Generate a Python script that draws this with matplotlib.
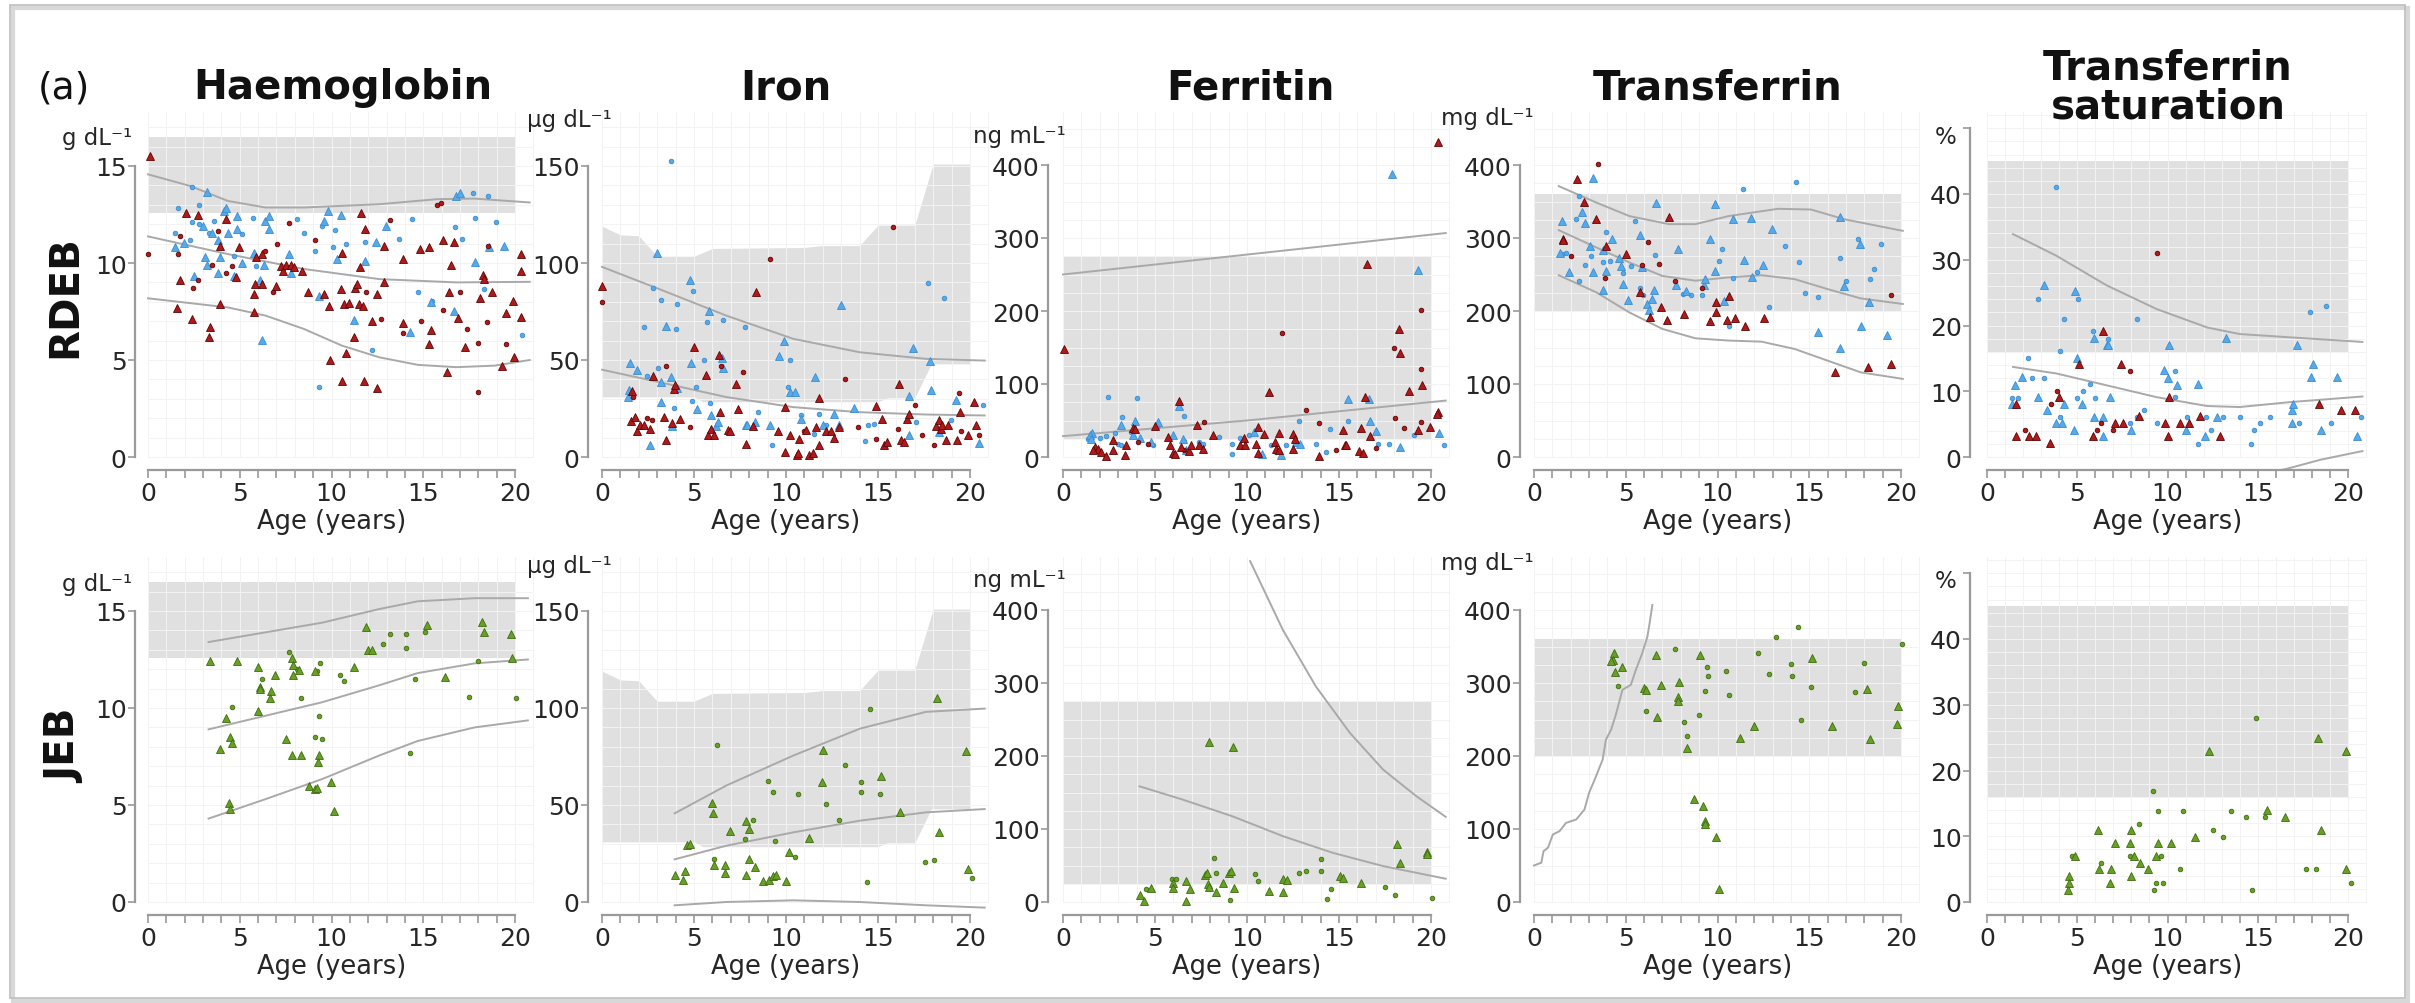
import matplotlib.pyplot as plt
import numpy as np
from matplotlib.patches import Rectangle

# ---------------- data (age in years, value) ----------------
# Haemoglobin, g/dL
hb_band = (12.6, 16.5)
hb_rdeb_red_tri = [(0.1, 15.5), (2.07, 12.6), (1.76, 9.1), (1.6, 7.7), (2.4, 7.1), (2.7, 12.5), (3.4, 6.7), (3.3, 6.2),
                   (3.9, 7.9), (3.9, 10.9), (4.25, 12.25), (4.77, 9.3), (4.97, 10.8), (5.76, 8.4), (5.76, 7.5),
                   (5.85, 8.9), (5.9, 10.3), (6.2, 10.45), (6.2, 8.9), (6.98, 8.8), (7.25, 9.86), (7.36, 9.6),
                   (7.5, 9.9), (7.77, 9.9), (7.98, 9.8), (8.4, 9.6), (8.7, 8.5), (9.6, 8.4), (9.85, 7.8), (9.9, 5.0),
                   (10.5, 8.65), (10.57, 10.5), (10.57, 3.9), (10.67, 7.9), (10.8, 5.35), (10.94, 7.95), (11.2, 6.2),
                   (11.3, 8.7), (11.4, 8.9), (11.5, 7.9), (11.56, 9.8), (11.6, 12.6), (11.7, 7.8), (11.8, 11.75),
                   (11.77, 3.9), (12.2, 7.0), (12.5, 3.55), (12.5, 8.4), (12.85, 9.0), (12.85, 10.9), (13.9, 10.2),
                   (13.9, 6.9), (14.8, 10.7), (15.3, 10.8), (15.4, 6.55), (15.3, 5.8), (16.1, 11.2), (16.3, 4.4),
                   (16.4, 8.5), (16.5, 9.9), (16.7, 11.1), (16.9, 7.15), (17.3, 5.65), (18.07, 8.2), (18.24, 9.4),
                   (18.3, 9.2), (18.76, 8.5), (19.3, 4.7), (19.5, 7.4), (19.9, 8.05), (19.94, 5.15), (20.3, 9.6),
                   (20.3, 10.45), (20.3, 7.2)]
hb_rdeb_red_dot = [(0, 10.45), (1.76, 11.4), (1.66, 10.45), (2.45, 8.7), (2.7, 9.1), (3.5, 9.9), (3.8, 11.66),
                   (4.25, 9.5), (4.56, 9.86), (6.36, 10.6), (6.8, 8.5), (7.05, 11.0), (7.67, 12.05), (9.1, 11.2),
                   (11.9, 8.5), (12.7, 7.1), (13.2, 12.2), (13.9, 6.4), (14.9, 7.0), (15.75, 13.0), (15.96, 13.1),
                   (16.06, 7.6), (17.0, 8.5), (17.4, 6.6), (18.0, 5.9), (18.0, 3.35), (18.5, 6.95), (18.55, 10.9),
                   (19.5, 5.8)]
hb_rdeb_blue_tri = [(3.2, 13.66), (1.45, 10.8), (1.97, 11.05), (2.53, 9.34), (3.0, 11.9), (3.1, 10.3), (3.2, 9.9),
                    (3.5, 11.57), (3.8, 11.2), (3.8, 9.5), (3.9, 10.3), (4.15, 12.7), (4.25, 12.86), (4.35, 11.57),
                    (4.7, 9.34), (4.87, 12.4), (4.87, 11.74), (5.1, 10.0), (5.8, 10.54), (6.1, 9.1), (6.2, 6.05),
                    (6.3, 9.9), (6.4, 12.17), (6.6, 12.4), (6.6, 11.74), (7.7, 10.45), (7.8, 9.5), (9.3, 8.3),
                    (9.6, 12.17), (9.8, 12.7), (10.3, 10.2), (10.5, 12.5), (11.2, 7.06), (11.8, 10.1), (12.4, 11.06),
                    (12.95, 11.9), (14.3, 6.43), (15.4, 8.0), (16.7, 7.54), (16.8, 13.46), (17.0, 13.6),
                    (17.8, 10.03), (18.6, 10.8), (19.4, 10.9)]
hb_rdeb_blue_dot = [(2.4, 13.9), (1.66, 12.86), (1.45, 11.57), (2.28, 11.2), (2.4, 12.1), (2.8, 13.0), (2.8, 12.0),
                    (3.3, 11.57), (3.6, 12.17), (4.66, 10.37), (5.14, 11.5), (5.7, 12.34), (5.9, 9.86), (8.1, 12.25),
                    (8.5, 11.57), (9.1, 10.6), (9.3, 3.6), (9.5, 11.9), (10.1, 10.8), (10.2, 11.7), (10.8, 10.97),
                    (11.8, 11.06), (12.2, 5.5), (13.7, 11.26), (14.4, 12.25), (14.7, 8.5), (15.5, 8.06),
                    (16.75, 11.83), (17.1, 11.26), (17.7, 13.63), (17.8, 12.34), (18.3, 8.66), (18.55, 13.46),
                    (18.96, 12.1), (20.4, 6.3)]
hb_rdeb_curves = [
    ([0, 2.3, 4.35, 6.4, 8.5, 12.6, 15.75, 17.8, 20.8], [14.57, 13.97, 13.2, 12.86, 12.86, 13.03, 13.29, 13.32, 13.12]),
    ([0, 4.35, 8.5, 12.6, 16.8, 20.8], [11.37, 10.46, 9.69, 9.17, 9.0, 9.03]),
    ([0, 4.35, 6.4, 8.5, 10.57, 12.6, 14.7, 16.8, 18.9, 20.8], [8.18, 7.71, 7.29, 6.6, 5.74, 5.14, 4.75, 4.63, 4.71, 5.0]),
]
hb_jeb_tri = [(3.38, 12.4), (4.87, 12.4), (3.94, 7.9), (4.25, 9.5), (4.46, 8.5), (4.6, 8.2), (4.4, 5.1), (4.46, 4.8),
              (6.0, 12.1), (6.1, 11.1), (6.1, 11.0), (5.97, 9.83), (6.7, 10.9), (6.67, 10.5), (6.94, 11.7),
              (7.5, 8.4), (7.83, 12.6), (7.9, 12.2), (7.9, 11.7), (8.25, 11.95), (7.83, 7.6), (8.35, 7.6),
              (8.75, 6.0), (9.08, 11.9), (9.3, 7.6), (9.28, 7.2), (9.08, 5.83), (9.2, 5.9), (9.95, 6.2),
              (10.15, 4.7), (11.2, 12.1), (11.9, 14.2), (12.0, 13.0), (12.2, 13.0), (15.2, 14.3), (16.2, 11.6),
              (18.2, 14.45), (18.3, 13.9), (19.8, 13.8), (19.85, 12.6)]
hb_jeb_dot = [(4.6, 10.05), (6.2, 11.47), (7.7, 12.9), (8.1, 12.03), (8.33, 10.5), (9.2, 11.9), (9.4, 12.3),
              (9.08, 8.5), (9.5, 8.4), (9.3, 9.6), (10.47, 11.7), (10.7, 11.4), (12.8, 13.3), (13.2, 13.8),
              (14.05, 13.8), (14.05, 13.1), (14.3, 7.7), (14.55, 11.5), (15.1, 13.9), (17.5, 10.57), (18.0, 12.4),
              (20.06, 10.5)]
hb_jeb_curves = [
    ([3.3, 6.4, 9.5, 12.6, 14.7, 17.8, 20.7], [13.4, 13.9, 14.4, 15.1, 15.5, 15.66, 15.66]),
    ([3.3, 6.4, 9.5, 12.6, 14.7, 17.8, 20.7], [8.9, 9.6, 10.3, 11.17, 11.8, 12.3, 12.5]),
    ([3.3, 6.4, 9.5, 12.6, 14.7, 17.8, 20.7], [4.3, 5.3, 6.34, 7.55, 8.3, 9.0, 9.36]),
]

# Iron, ug/dL (age-dependent reference band)
iron_band_age = [0, 1, 2, 3, 5, 5.5, 6, 11, 12, 14, 15, 15.5, 17, 17.9, 18, 20]
iron_band_lo = [31, 31, 31, 31, 31, 28.5, 28.5, 28.5, 28.5, 28.5, 28.5, 30.5, 30.5, 48, 48, 48]
iron_band_hi = [119, 114.5, 114, 103.5, 103.5, 105.5, 107.5, 108, 109, 109, 119.5, 119.5, 119.5, 148, 151, 151]
iron_rdeb_red_tri = [(0, 88.3), (1.65, 33.8), (1.6, 18.3), (1.77, 20.6), (1.9, 13.4), (2.05, 16.3), (2.3, 16.6),
                     (2.62, 14.2), (2.77, 42), (3.35, 20.6), (3.46, 8.6), (3.82, 17.7), (3.9, 35.1), (3.95, 36.9),
                     (4.25, 19.4), (5.0, 56.6), (5.67, 42.3), (5.76, 11.5), (5.94, 14.6), (6.06, 11.5), (6.35, 52.6),
                     (6.43, 23.1), (6.84, 13.7), (6.97, 13.2), (7.3, 37.7), (7.38, 24.5), (7.8, 6.86), (8.2, 15.8),
                     (8.38, 85.2), (9.56, 13.2), (9.92, 25.7), (9.97, 2.6), (10.2, 11.1), (10.6, 0.86), (10.64, 2.2),
                     (10.7, 9.4), (11.1, 13.7), (11.24, 1.2), (11.46, 2.2), (11.64, 15.4), (11.82, 30.3), (11.82, 6),
                     (12.2, 13.2), (12.45, 13.2), (12.6, 9.8), (12.9, 15.4), (14.9, 26.2), (15.2, 19.4), (15.35, 6.3),
                     (15.5, 7.7), (16.16, 37.7), (16.25, 8.6), (16.4, 7.7), (16.56, 19.4), (16.7, 22.3), (18.15, 15.8),
                     (18.3, 18.9), (18.4, 14.2), (18.5, 16.3), (18.7, 8.6), (18.8, 16.6), (19.3, 8.6), (19.46, 23.1),
                     (19.9, 11.5), (20.2, 28.3), (20.3, 16.3)]
iron_rdeb_red_dot = [(0, 79.7), (1.7, 30.9), (2.44, 20), (2.73, 18.9), (3.46, 47.1), (4.8, 15.4), (6.46, 47.1),
                     (7.66, 44), (9.14, 102), (11.0, 13.2), (13.2, 40.3), (13.9, 15.4), (14.9, 9.4), (15.8, 118.6),
                     (16.1, 14.2), (17.0, 26.9), (17.4, 11.1), (18.06, 6), (19.4, 33.1), (19.5, 13.2), (20.5, 11.1)]
iron_rdeb_blue_tri = [(3.0, 104.9), (3.5, 67.4), (4.8, 91.2), (5.8, 75.4), (1.54, 48.5), (1.9, 44.6), (1.4, 30.9),
                      (1.47, 34.3), (2.6, 6.3), (3.2, 38.6), (3.2, 28.6), (3.76, 41.1), (3.82, 15.9), (4.1, 35.5),
                      (4.85, 48.5), (5.16, 24.9), (5.9, 21.4), (6.2, 15.8), (6.3, 18), (6.5, 50.9), (6.6, 45.8),
                      (7.8, 16.3), (7.9, 16.6), (8.3, 18), (9.14, 16.3), (9.6, 52.3), (9.9, 60), (10.2, 33.4),
                      (10.5, 33.4), (10.8, 19.4), (11.55, 41.1), (12.0, 16.3), (12.6, 22.3), (12.87, 16.6),
                      (13.0, 78.3), (13.7, 25.2), (16.67, 31.7), (16.7, 11.1), (16.9, 56), (17.8, 49.7), (17.9, 34.3),
                      (18.33, 12.9), (19.24, 29.5), (20.5, 7.4)]
iron_rdeb_blue_dot = [(3.76, 152.6), (2.77, 86.9), (3.2, 80.9), (2.26, 66.9), (4.0, 66), (4.1, 78.9), (4.94, 85.7),
                      (5.7, 69.8), (6.57, 70.8), (2.44, 42), (3.06, 45.9), (3.9, 25.2), (4.9, 29.1), (5.1, 36),
                      (5.54, 50.2), (5.85, 27.9), (7.75, 66.9), (8.5, 23.1), (9.25, 6.3), (10.1, 36), (10.2, 50.2),
                      (10.8, 21.8), (11.5, 12), (11.8, 22.3), (12.2, 16.3), (14.3, 8.1), (14.45, 16.3), (14.8, 17.1),
                      (17.07, 18), (17.7, 89.7), (18.6, 81.8), (18.97, 18.9), (20.7, 26.9)]
iron_rdeb_curves = [
    ([0, 3.1, 6.75, 10.4, 14, 17.6, 20.8], [98, 86.6, 72.9, 60.9, 54, 50.6, 49.7]),
    ([0, 3.1, 6.75, 10.4, 14, 17.6, 20.8], [45, 38.6, 30.9, 25.7, 23.1, 21.9, 21.4]),
]
iron_jeb_tri = [(3.95, 13.8), (4.4, 11.2), (4.5, 16), (4.6, 29.5), (4.8, 29.8), (6.0, 51), (6.03, 45.7), (6.06, 19),
                (6.66, 19), (6.66, 14.8), (6.93, 36.7), (7.84, 41.9), (7.98, 37.6), (7.98, 22), (7.84, 13.8),
                (8.34, 18.1), (8.74, 10.9), (9.1, 11.2), (9.28, 13.4), (9.47, 13.8), (10.0, 10.9), (10.15, 25.9),
                (11.24, 32.8), (12.0, 78.1), (11.96, 61.7), (15.17, 64.8), (16.2, 46.2), (18.2, 105.2),
                (18.33, 35.9), (19.8, 77.6), (19.9, 17.2)]
iron_jeb_dot = [(6.24, 80.7), (6.1, 22.4), (7.75, 32.4), (8.2, 42.4), (9.0, 62.6), (9.3, 56.6), (9.4, 31.6),
                (10.5, 23.4), (10.64, 55.7), (12.2, 50.5), (12.87, 42.4), (13.2, 70.7), (14.08, 61.7), (14.08, 56.6),
                (14.4, 10.3), (14.57, 99.7), (15.1, 55.7), (17.57, 20.7), (18.06, 21.7), (20.1, 12.6)]
iron_jeb_curves = [
    ([3.95, 6.75, 10.4, 14, 17.6, 20.8], [45.7, 60, 75.5, 89.3, 98, 99.7]),
    ([3.95, 6.75, 10.4, 14, 17.6, 20.8], [22, 29, 35.9, 41.9, 46.2, 47.9]),
    ([3.95, 6.75, 10.4, 14, 17.6, 20.8], [-1.7, 0, 0.86, 0, -1.7, -2.9]),
]

# Ferritin, ng/mL
ferr_band = (24, 274)
ferr_rdeb_red_tri = [(0.05, 147.7), (20.4, 431.8), (16.5, 264.5), (18.24, 175), (18.3, 143), (18.8, 91), (19.5, 98.6),
                     (11.2, 88.6), (6.33, 77.3), (16.4, 81.8), (20.4, 61.4), (20.3, 59), (7.28, 43.2), (4.98, 42.3),
                     (3.8, 39.5), (3.9, 38.6), (16.2, 39.5), (10.6, 40.9), (19.95, 40.9), (15.2, 36.4), (19.3, 36.4),
                     (2.7, 22.7), (3.44, 15.9), (1.72, 13.6), (1.9, 10.5), (1.63, 9.1), (2.08, 6.8), (2.35, 1.4),
                     (3.35, 3.2), (2.7, 9.1), (5.7, 27.3), (5.8, 15.9), (5.97, 5.9), (6.1, 4.5), (6.4, 13.6),
                     (6.84, 7.7), (6.97, 16.8), (7.4, 15.9), (7.6, 10.5), (8.15, 30.5), (9.6, 15.9), (9.86, 25.9),
                     (9.9, 15.9), (10.5, 18.2), (10.6, 5.9), (10.95, 31.8), (11.5, 20.5), (11.6, 11.4), (11.76, 33.2),
                     (11.76, 9.1), (12.5, 31.8), (12.6, 24.1), (12.5, 10.5), (13.9, 1.4), (15.3, 15.9), (15.4, 15.9),
                     (16.1, 7.7), (16.3, 5.9), (16.7, 28.6)]
ferr_rdeb_red_dot = [(19.46, 201), (18.0, 149), (11.9, 170.5), (19.46, 121), (13.2, 65), (18.06, 53.2), (13.9, 46.8),
                     (19.46, 48.6), (7.64, 47.7), (18.55, 39.5), (4.07, 20.5), (4.6, 18.2), (6.6, 9.1), (14.84, 9.1),
                     (17.0, 12.3)]
ferr_rdeb_blue_tri = [(17.9, 387.7), (19.3, 256), (6.33, 70.5), (15.5, 79.5), (16.65, 79.5), (16.7, 50), (3.17, 43.2),
                      (3.9, 50), (5.16, 47.7), (3.8, 29.5), (1.6, 33.2), (1.45, 29.5), (1.5, 25), (4.16, 25.9),
                      (4.8, 20.5), (5.97, 29.5), (6.5, 25), (6.7, 9.1), (10.4, 34), (10.8, 4.5), (11.86, 3.2),
                      (12.67, 20.5), (12.9, 18.2), (17.0, 35), (18.3, 13.6), (20.45, 33.2)]
ferr_rdeb_blue_dot = [(2.44, 81.8), (4.0, 80.5), (6.6, 56.8), (12.8, 50), (15.5, 50), (3.2, 54.5), (5.1, 40.9),
                      (3.7, 34), (2.8, 33.2), (1.36, 24), (2.0, 25.9), (2.35, 28.6), (3.0, 18.2), (3.17, 15.9),
                      (4.9, 15.9), (6.6, 21.4), (7.4, 20.5), (7.6, 18.2), (8.5, 27.3), (9.2, 18.2), (9.2, 4.5),
                      (9.6, 25.9), (10.1, 30.5), (11.3, 15.9), (11.6, 6.8), (12.1, 15.9), (13.76, 18.2), (14.3, 6.8),
                      (14.5, 37.7), (17.1, 18.2), (17.7, 18.2), (19.1, 29.5), (20.7, 15.9)]
ferr_rdeb_curves = [
    ([0, 20.8], [250, 306.8]),
    ([0, 10, 20.8], [28.6, 50, 77.3]),
]
ferr_jeb_tri = [(7.93, 219), (9.23, 213), (4.16, 9.1), (4.38, 1.4), (4.8, 19.6), (5.97, 26.4), (6.0, 19.6),
                (6.66, 1.4), (6.7, 28.7), (6.9, 17.3), (7.7, 36.4), (7.82, 40), (7.87, 24.1), (7.96, 21), (8.33, 13.7),
                (8.72, 26.4), (9.0, 40), (9.14, 42.4), (9.32, 19.6), (11.2, 15), (11.95, 31.9), (12.16, 30),
                (11.95, 13.7), (15.06, 35.5), (15.2, 33.3), (16.2, 26.4), (18.14, 79.7), (18.3, 53.8), (19.76, 68.3),
                (19.8, 65.1)]
ferr_jeb_dot = [(4.5, 18.2), (5.94, 31), (6.15, 31.9), (8.2, 60.6), (8.33, 40), (9.05, 2.7), (10.46, 37.8),
                (10.6, 28.7), (12.8, 39.2), (13.2, 42.4), (14.0, 58.3), (14.0, 42.4), (14.35, 3.6), (14.57, 18.2),
                (17.5, 21), (18.06, 9.1), (20.05, 5.9)]
ferr_jeb_curves = [
    ([10.17, 11.95, 13.75, 15.6, 17.4, 19.2, 20.8], [467, 372.7, 295, 231.4, 181.3, 145, 116.6]),
    ([4.16, 6.5, 9.2, 11.95, 14.66, 17.4, 20.8], [158.5, 140.3, 117.5, 90.2, 67.4, 49.2, 31.9]),
]

# Transferrin, mg/dL
tf_band = (200, 360)
tf_rdeb_red_tri = [(2.33, 381), (2.7, 350), (3.4, 325.7), (1.57, 299), (1.6, 297.5), (3.95, 289), (5.0, 278),
                   (5.8, 226.4), (7.35, 329), (6.3, 192), (6.9, 205), (7.26, 188), (8.17, 196), (9.6, 186.8),
                   (9.9, 212.8), (9.9, 198), (10.5, 188), (10.6, 221), (10.97, 191), (11.5, 179), (12.56, 191),
                   (16.4, 116), (18.2, 123), (19.46, 127.6)]
tf_rdeb_red_dot = [(3.47, 401), (2.0, 275.6), (3.87, 244.6), (5.9, 263), (6.2, 294.8), (6.8, 264), (7.7, 241.5),
                   (9.16, 231), (19.46, 222)]
tf_rdeb_blue_tri = [(3.2, 382.7), (1.54, 323.5), (1.4, 280), (1.9, 253.8), (2.62, 335.8), (2.8, 320), (3.05, 289),
                    (3.2, 252.8), (3.78, 283.8), (3.78, 229), (3.92, 255), (4.25, 299), (4.64, 272), (4.73, 262),
                    (4.86, 237), (5.1, 215.5), (5.8, 304), (5.9, 259.7), (6.18, 209.6), (6.27, 201.8), (6.45, 216.4),
                    (6.54, 229), (6.63, 347.6), (7.86, 284.7), (7.75, 235.5), (8.3, 227.8), (9.25, 235.5),
                    (9.3, 243.7), (9.6, 298.4), (9.85, 255), (9.85, 346), (10.33, 214), (10.82, 326.7), (11.47, 270),
                    (11.83, 328), (11.87, 247), (12.5, 263), (12.95, 313), (15.48, 171.8), (16.66, 149), (16.7, 329),
                    (16.9, 233.7), (17.74, 291.6), (17.83, 179), (18.28, 212.8), (19.24, 167)]
tf_rdeb_blue_dot = [(2.47, 357.6), (1.5, 278), (1.75, 280), (2.3, 326.7), (2.44, 241.5), (2.8, 263), (3.1, 275.6),
                    (3.78, 266.5), (3.92, 308.4), (4.14, 268.8), (4.86, 252), (5.28, 262), (5.5, 323.5), (5.8, 232),
                    (5.95, 221.9), (6.6, 276.5), (8.1, 223), (8.53, 221.9), (9.16, 221.9), (10.24, 285.6),
                    (10.1, 268.8), (10.64, 180), (10.82, 244.6), (11.4, 367.7), (12.14, 252.8), (12.8, 205),
                    (13.7, 289), (14.3, 376.8), (14.44, 266.5), (14.76, 224.6), (15.48, 218.7), (16.7, 272),
                    (17.0, 241.5), (17.65, 299), (18.3, 243.7), (18.55, 257.4), (18.9, 291.6)]
tf_rdeb_curves = [
    ([1.35, 3.4, 5.2, 7.35, 8.8, 10.6, 13.3, 15.1, 16.9, 20.1], [371, 348.5, 330, 319, 319, 330, 340, 339, 325.7, 309.8]),
    ([1.35, 3.4, 5.2, 7.0, 8.8, 10.6, 12.4, 14.2, 16.0, 17.8, 20.1],
     [310.7, 287, 266.5, 248, 241.5, 246, 249, 243.7, 230, 217.3, 209.6]),
    ([1.35, 3.4, 5.2, 7.0, 8.8, 10.6, 12.4, 14.2, 16.0, 17.8, 20.1],
     [249, 225.5, 198, 175.4, 162.6, 159.5, 158, 148, 132, 116, 107]),
]
tf_jeb_tri = [(4.37, 340.8), (4.28, 331.7), (4.2, 330.3), (4.43, 314.4), (4.82, 321.6), (6.0, 293), (6.1, 290.7),
              (6.63, 338), (6.72, 254), (6.9, 297.5), (7.86, 280.6), (7.86, 274.7), (7.9, 300.7), (8.35, 211),
              (9.07, 338.5), (11.2, 224), (11.98, 241.5), (15.16, 334), (16.24, 241.5), (18.16, 291.6),
              (18.3, 223.2), (19.8, 244.2), (19.86, 268.8), (8.7, 141.7), (9.2, 131.2), (9.3, 110.7), (9.34, 106.2),
              (9.94, 88.8), (10.1, 18.2)]
tf_jeb_dot = [(4.6, 296), (6.12, 261), (7.7, 346.7), (8.2, 246), (8.35, 227.8), (8.98, 256.5), (9.3, 288.4),
              (9.43, 321.6), (9.48, 309.8), (10.46, 317), (10.6, 283.8), (12.2, 340.8), (12.83, 312.5), (13.2, 363.6),
              (14.0, 326.2), (14.04, 309), (14.36, 377.2), (14.54, 249.7), (15.1, 295.2), (17.5, 287), (18.0, 327),
              (20.04, 353.5)]
tf_jeb_curves = [
    ([0, 0.4, 0.52, 0.76, 1.03, 1.39, 1.75, 2.3, 2.75, 3.0, 3.38, 3.74, 3.92, 4.2, 4.46, 4.82, 5.28, 5.55, 5.9,
      6.18, 6.3, 6.45],
     [50, 53.8, 69.7, 74.3, 92.5, 97, 108.4, 113, 126.7, 149.4, 172.2, 195, 222.3, 236, 256.5, 290.7, 297.5, 318,
      340.8, 363.6, 381.8, 406.8]),
]

# Transferrin saturation, %
tsat_band = (16, 45)
tsat_rdeb_red_tri = [(6.44, 19.1), (5.1, 14.2), (7.4, 14.2), (4.0, 9.2), (1.63, 8.1), (10.1, 9.2), (1.6, 3.2),
                     (2.33, 3.2), (2.74, 3.2), (3.5, 2.2), (5.9, 3.2), (7.1, 5.2), (7.55, 5.2), (8.44, 6.2),
                     (9.87, 5.2), (10.05, 3.2), (10.7, 5.2), (11.2, 5.2), (11.8, 6.2), (12.9, 3.2), (18.4, 8.1),
                     (19.6, 7.1), (20.4, 7.1)]
tsat_rdeb_red_dot = [(9.4, 31), (7.9, 13.1), (3.9, 10.0), (3.57, 8.1), (2.1, 4.05), (6.07, 4.05), (6.3, 5.1),
                     (7.0, 4.05)]
tsat_rdeb_blue_tri = [(3.15, 26.2), (4.87, 25.2), (5.93, 18.1), (6.63, 17.1), (6.72, 17), (10.07, 17.1),
                      (13.26, 18.1), (17.2, 17.1), (18.07, 14.2), (17.96, 12.15), (19.4, 12.15), (4.96, 15.0),
                      (1.54, 11.0), (1.96, 12.15), (1.4, 8.1), (2.83, 9.2), (3.3, 7.1), (4.26, 8.1), (5.24, 8.1),
                      (6.81, 9.1), (3.85, 5.2), (4.13, 5.1), (4.8, 4.05), (5.93, 6.1), (6.44, 6.1), (6.4, 3.2),
                      (8.0, 4.05), (9.8, 13.2), (10.05, 12.05), (10.5, 11.0), (11.0, 4.05), (11.7, 11.1), (12.1, 3.2),
                      (12.74, 6.1), (16.9, 7.1), (16.96, 8.1), (16.9, 5.2), (18.5, 4.05), (20.5, 3.2)]
tsat_rdeb_blue_dot = [(3.85, 41), (2.83, 24.05), (5.05, 24.05), (4.26, 21), (8.3, 21), (5.9, 19.1), (6.72, 18),
                      (17.9, 22), (18.76, 23), (4.07, 16.05), (2.28, 15.0), (2.5, 12.05), (3.15, 12.05), (5.7, 11.1),
                      (5.33, 10.0), (1.4, 9.0), (1.7, 9.0), (5.0, 9.0), (5.98, 9.0), (4.04, 6.1), (7.93, 5.2),
                      (8.7, 7.1), (8.3, 6.1), (9.4, 5.2), (10.4, 13.1), (10.4, 9.1), (11.1, 6.1), (11.7, 2.0),
                      (12.15, 6.1), (12.4, 4.05), (13.1, 6.1), (14.0, 6.1), (14.6, 2.0), (14.8, 4.05), (15.1, 5.1),
                      (15.7, 6.1), (17.3, 5.1), (19.07, 5.1), (20.7, 6.1)]
tsat_rdeb_curves = [
    ([1.44, 3.85, 6.63, 9.4, 12.2, 14.0, 16.8, 20.8], [33.9, 30.6, 26.1, 22.5, 19.7, 18.7, 18.2, 17.5]),
    ([1.44, 3.85, 6.63, 9.4, 12.2, 14.0, 16.8, 20.8], [13.7, 12.7, 10.9, 9.1, 7.75, 7.6, 8.35, 9.2]),
    ([14.5, 16.6, 18.5, 20.8], [-3, -1.8, -0.4, 0.9]),
]
tsat_jeb_tri = [(18.33, 25), (12.28, 23), (19.87, 23), (15.5, 14), (16.5, 13), (6.17, 11), (8.0, 11), (18.5, 11),
                (11.5, 9.95), (7.1, 9.0), (7.9, 9.0), (9.5, 9.0), (10.2, 9.0), (4.87, 7.0), (8.15, 7.0), (9.37, 7.0),
                (8.5, 6.0), (6.2, 5.0), (6.85, 5.0), (8.94, 5.0), (19.9, 5.0), (4.56, 4.0), (8.0, 4.0), (4.56, 2.9),
                (6.8, 2.9), (4.5, 1.9)]
tsat_jeb_dot = [(14.93, 28), (9.22, 16.9), (9.5, 13.86), (10.85, 13.86), (13.5, 13.86), (14.37, 12.9), (15.4, 12.9),
                (8.4, 11.9), (12.5, 11), (13.1, 9.95), (4.7, 7.0), (7.9, 7.0), (9.63, 7.0), (6.3, 5.9), (10.7, 5.0),
                (17.7, 5.0), (18.2, 5.0), (9.37, 2.9), (9.74, 2.9), (20.15, 2.9), (9.26, 1.9), (14.7, 1.9)]

titles = ['Haemoglobin', 'Iron', 'Ferritin', 'Transferrin', 'Transferrin\nsaturation']
units = ['g dL⁻¹', 'µg dL⁻¹', 'ng mL⁻¹', 'mg dL⁻¹', '%']
yticks = [[0, 5, 10, 15], [0, 50, 100, 150], [0, 100, 200, 300, 400], [0, 100, 200, 300, 400], [0, 10, 20, 30, 40, 50]]
row_labels = ['RDEB', 'JEB']

# ---------------- layout (pixels of the 2415x1004 canvas) ----------------
W, H = 2415, 1004
COL_SPINE = [135, 588, 1048, 1520, 1970]
COL_X0 = [148, 602, 1063, 1534, 1987]
COL_X20 = [515, 970, 1431, 1901, 2348]
TICK_TOP_PX = [167, 167, 166, 166, 195]      # pixel of the top labelled tick (15, 150, 400, 400, 40)
TICK_TOP_VAL = [15, 150, 400, 400, 40]
GRID_STEP = [1, 10, 25, 25, 2]
UNIT_POS = [(132, 139), (612, 121), (1066, 136), (1534, 119), (1957, 137)]
ROW_SHIFT = [0, 445]
ZERO_PX, BASE_PX, TOP_PX = 458, 471, 113

RED, RED_E = '#b0181a', '#5e0505'
BLUE, BLUE_E = '#56aaea', '#3a8cd2'
GREEN, GREEN_E = '#66a024', '#3f6c10'
CURVE = '#a9a9a9'
BAND = '#e0e0e0'
AXC = '#9a9a9a'
TXT = '#262626'

plt.rcParams['font.family'] = 'DejaVu Sans'
fig = plt.figure(figsize=(W / 100, H / 100), dpi=100)


def fx(px):
    return px / W


def fy(py):
    return 1 - py / H


def make_axes(col, row):
    shift = ROW_SHIFT[row]
    pxyr = (COL_X20[col] - COL_X0[col]) / 20
    pxu = (ZERO_PX - TICK_TOP_PX[col]) / TICK_TOP_VAL[col]
    xlo = -(COL_X0[col] - COL_SPINE[col]) / pxyr
    xhi = 21.3
    right_px = COL_X0[col] + xhi * pxyr
    ax = fig.add_axes([fx(COL_SPINE[col]), fy(BASE_PX + shift),
                       (right_px - COL_SPINE[col]) / W, (BASE_PX - TOP_PX) / H])
    ax.set_xlim(xlo, xhi)
    ax.set_ylim(-(BASE_PX - ZERO_PX) / pxu, (ZERO_PX - TOP_PX) / pxu)
    ax.patch.set_alpha(0)
    for s in ['top', 'right']:
        ax.spines[s].set_visible(False)
    for s in ['left', 'bottom']:
        ax.spines[s].set_color(AXC)
        ax.spines[s].set_linewidth(1.6)
    ax.spines['bottom'].set_bounds(0, 20)
    ax.spines['left'].set_bounds(0, yticks[col][-1])
    ax.set_xticks([0, 5, 10, 15, 20])
    ax.set_xticks(np.arange(0, 21), minor=True)
    ax.set_yticks(yticks[col])
    labels = [str(v) for v in yticks[col]]
    if col == 4:
        labels[-1] = ''
    ax.set_yticklabels(labels)
    ax.tick_params(axis='both', which='both', color=AXC, width=1.2, labelcolor=TXT, labelsize=18)
    ax.tick_params(axis='x', which='both', length=6, pad=2)
    ax.tick_params(axis='y', length=5, pad=1)

    # faint background grid
    top = ax.get_ylim()[1]
    for gx in np.arange(0, 22):
        ax.plot([gx, gx], [0, top], color='#f3f3f3', lw=0.7, zorder=0.5)
    for gy in np.arange(0, top, GRID_STEP[col]):
        ax.plot([0, 21], [gy, gy], color='#f3f3f3', lw=0.7, zorder=0.5)

    fig.text(fx((COL_X0[col] + COL_X20[col]) / 2), fy(522 + shift), 'Age (years)',
             ha='center', va='center', fontsize=18.5, color=TXT)
    ux, uy = UNIT_POS[col]
    fig.text(fx(ux), fy(uy + shift), units[col], ha='right', va='center', fontsize=16.5, color=TXT)
    return ax


def band(ax, lo_hi):
    ax.fill_between([0, 20], [lo_hi[0]] * 2, [lo_hi[1]] * 2, color=BAND, lw=0, zorder=0)


def curves(ax, lines):
    for ages, vals in lines:
        ax.plot(ages, vals, color=CURVE, lw=1.4, zorder=2)


def points(ax, pts, face, edge, marker):
    a = np.array(pts)
    ms = 5.4 if marker == '^' else 3.3
    ax.plot(a[:, 0], a[:, 1], ls='none', marker=marker, ms=ms, mfc=face, mec=edge, mew=0.6, zorder=3)


panels_rdeb = [
    (hb_rdeb_curves, hb_rdeb_blue_tri, hb_rdeb_blue_dot, hb_rdeb_red_tri, hb_rdeb_red_dot),
    (iron_rdeb_curves, iron_rdeb_blue_tri, iron_rdeb_blue_dot, iron_rdeb_red_tri, iron_rdeb_red_dot),
    (ferr_rdeb_curves, ferr_rdeb_blue_tri, ferr_rdeb_blue_dot, ferr_rdeb_red_tri, ferr_rdeb_red_dot),
    (tf_rdeb_curves, tf_rdeb_blue_tri, tf_rdeb_blue_dot, tf_rdeb_red_tri, tf_rdeb_red_dot),
    (tsat_rdeb_curves, tsat_rdeb_blue_tri, tsat_rdeb_blue_dot, tsat_rdeb_red_tri, tsat_rdeb_red_dot),
]
panels_jeb = [
    (hb_jeb_curves, hb_jeb_tri, hb_jeb_dot),
    (iron_jeb_curves, iron_jeb_tri, iron_jeb_dot),
    (ferr_jeb_curves, ferr_jeb_tri, ferr_jeb_dot),
    (tf_jeb_curves, tf_jeb_tri, tf_jeb_dot),
    ([], tsat_jeb_tri, tsat_jeb_dot),
]
bands = [hb_band, None, ferr_band, tf_band, tsat_band]

for row in range(2):
    for col in range(5):
        ax = make_axes(col, row)
        if bands[col] is None:
            ax.fill_between(iron_band_age, iron_band_lo, iron_band_hi, color=BAND, lw=0, zorder=0)
        else:
            band(ax, bands[col])
        if row == 0:
            lines, btri, bdot, rtri, rdot = panels_rdeb[col]
            curves(ax, lines)
            points(ax, bdot, BLUE, BLUE_E, 'o')
            points(ax, btri, BLUE, BLUE_E, '^')
            points(ax, rdot, RED, RED_E, 'o')
            points(ax, rtri, RED, RED_E, '^')
        else:
            lines, gtri, gdot = panels_jeb[col]
            curves(ax, lines)
            points(ax, gdot, GREEN, GREEN_E, 'o')
            points(ax, gtri, GREEN, GREEN_E, '^')

# titles and labels
title_x = [343, 786, 1250, 1718, 2168]
for col, t in enumerate(titles):
    fig.text(fx(title_x[col]), fy(88), t, ha='center', va='center',
             fontsize=29, fontweight='bold', color='#111111', linespacing=0.95)
fig.text(fx(64), fy(88), '(a)', ha='center', va='center', fontsize=27, color='#111111')
fig.text(fx(65), fy(297), row_labels[0], rotation=90, ha='center', va='center',
         fontsize=29, fontweight='bold', color='#111111')
fig.text(fx(65), fy(746), row_labels[1], rotation=90, ha='center', va='center',
         fontsize=29, fontweight='bold', color='#111111')

# framed panel with slight shadow
fig.add_artist(Rectangle((fx(13), fy(1002)), (2408 - 13) / W, (1002 - 9) / H, transform=fig.transFigure,
                         facecolor='none', edgecolor='#d8d8d8', lw=3, zorder=-1))
fig.add_artist(Rectangle((fx(10), fy(999)), (2405 - 10) / W, (999 - 6) / H, transform=fig.transFigure,
                         facecolor='none', edgecolor='#bdbdbd', lw=1.2, zorder=-1))

fig.savefig('out.png', dpi=100)
